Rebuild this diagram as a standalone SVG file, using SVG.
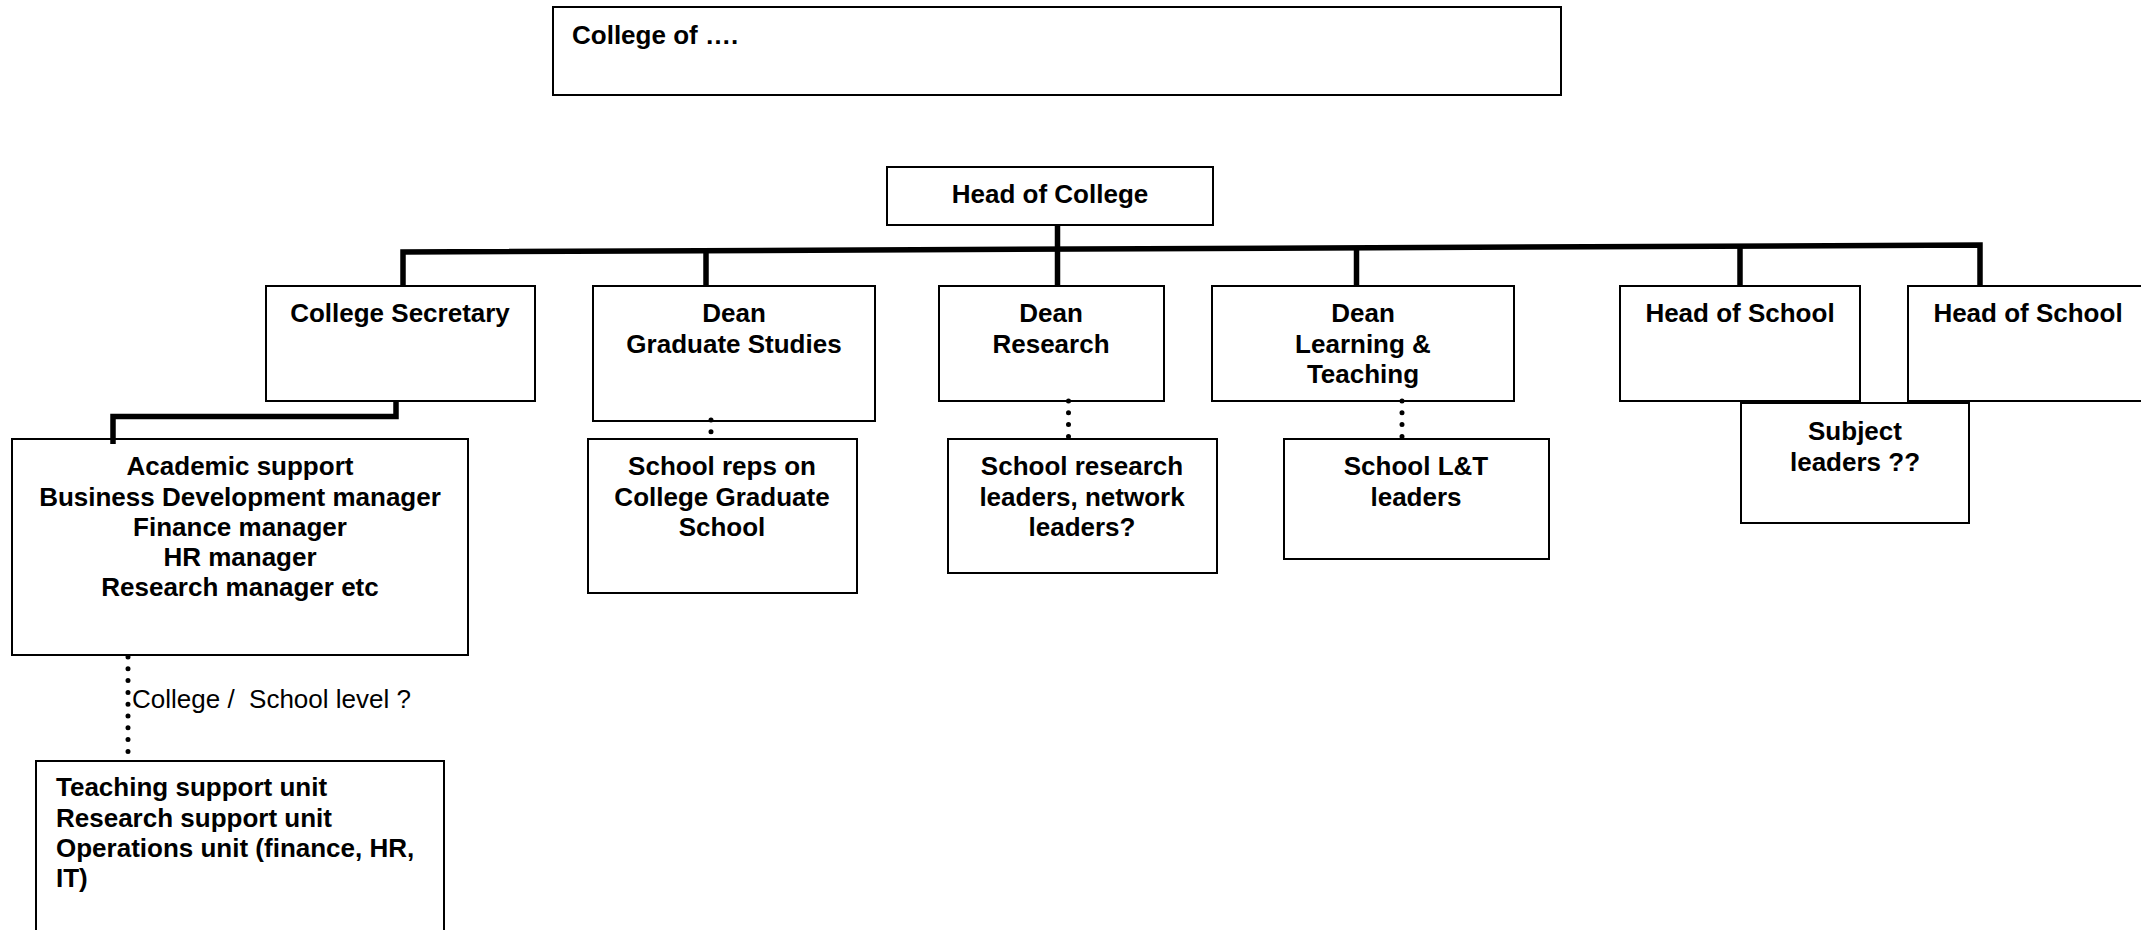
<svg xmlns="http://www.w3.org/2000/svg" width="2141" height="930" viewBox="0 0 2141 930">
<style>
  rect { fill: #ffffff; stroke: #000000; stroke-width: 2; }
  text { font-family: "Liberation Sans", Arial, sans-serif; font-size: 26px; font-weight: bold; fill: #000000; }
  .c { text-anchor: middle; }
  .n { font-weight: normal; white-space: pre; }
  .solid { fill: none; stroke: #000000; stroke-width: 5.5; stroke-linejoin: miter; stroke-linecap: butt; }
  .dot { fill: none; stroke: #000000; stroke-width: 5; stroke-linecap: round; stroke-dasharray: 0 11.8; }
</style>
<rect x="0" y="0" width="2141" height="930" style="fill:#ffffff;stroke:none"/>

<g id="college-of">
  <rect x="553" y="7" width="1008" height="88"/>
  <text x="572" y="44">College of ….</text>
</g>

<g id="head-of-college">
  <rect x="887" y="167" width="326" height="58"/>
  <text class="c" x="1050" y="203">Head of College</text>
</g>

<g id="college-secretary">
  <rect x="266" y="286" width="269" height="115"/>
  <text class="c" x="400" y="322">College Secretary</text>
</g>

<g id="dean-graduate">
  <rect x="593" y="286" width="282" height="135"/>
  <text class="c" x="734" y="322">Dean</text>
  <text class="c" x="734" y="352.5">Graduate Studies</text>
</g>

<g id="dean-research">
  <rect x="939" y="286" width="225" height="115"/>
  <text class="c" x="1051" y="322">Dean</text>
  <text class="c" x="1051" y="352.5">Research</text>
</g>

<g id="dean-lt">
  <rect x="1212" y="286" width="302" height="115"/>
  <text class="c" x="1363" y="322">Dean</text>
  <text class="c" x="1363" y="352.5">Learning &amp;</text>
  <text class="c" x="1363" y="383">Teaching</text>
</g>

<g id="head-of-school-1">
  <rect x="1620" y="286" width="240" height="115"/>
  <text class="c" x="1740" y="322">Head of School</text>
</g>

<g id="head-of-school-2">
  <rect x="1908" y="286" width="250" height="115"/>
  <text class="c" x="2028" y="322">Head of School</text>
</g>

<g id="subject-leaders">
  <rect x="1741" y="403" width="228" height="120"/>
  <text class="c" x="1855" y="440">Subject</text>
  <text class="c" x="1855" y="470.5">leaders ??</text>
</g>

<g id="academic-support">
  <rect x="12" y="439" width="456" height="216"/>
  <text class="c" x="240" y="475">Academic support</text>
  <text class="c" x="240" y="505.5">Business Development manager</text>
  <text class="c" x="240" y="535.5">Finance manager</text>
  <text class="c" x="240" y="566">HR manager</text>
  <text class="c" x="240" y="596">Research manager etc</text>
</g>

<g id="school-reps">
  <rect x="588" y="439" width="269" height="154"/>
  <text class="c" x="722" y="475">School reps on</text>
  <text class="c" x="722" y="505.5">College Graduate</text>
  <text class="c" x="722" y="535.5">School</text>
</g>

<g id="school-research">
  <rect x="948" y="439" width="269" height="134"/>
  <text class="c" x="1082" y="475">School research</text>
  <text class="c" x="1082" y="505.5">leaders, network</text>
  <text class="c" x="1082" y="535.5">leaders?</text>
</g>

<g id="school-lt">
  <rect x="1284" y="439" width="265" height="120"/>
  <text class="c" x="1416" y="475">School L&amp;T</text>
  <text class="c" x="1416" y="505.5">leaders</text>
</g>

<g id="support-units">
  <rect x="36" y="761" width="408" height="180"/>
  <text x="56" y="796">Teaching support unit</text>
  <text x="56" y="826.5">Research support unit</text>
  <text x="56" y="856.5">Operations unit (finance, HR,</text>
  <text x="56" y="887">IT)</text>
</g>

<g id="connectors">
  <path class="solid" d="M403,286 L403,252 L1980,245 L1980,286"/>
  <path class="solid" d="M706,286 L706,251"/>
  <path class="solid" d="M1057.5,225 L1057.5,285"/>
  <path class="solid" d="M1356.5,286 L1356.5,247"/>
  <path class="solid" d="M1740,286 L1740,246"/>
  <path class="solid" d="M396,401 L396,416.5 L113,416.5 L113,444"/>
  <path class="dot" d="M711,420 L711,434"/>
  <path class="dot" d="M1068.5,401 L1068.5,438"/>
  <path class="dot" d="M1402,401 L1402,438"/>
  <path class="dot" d="M128,657 L128,756"/>
  <text class="n" x="132" y="708">College /  School level ?</text>
</g>
</svg>
